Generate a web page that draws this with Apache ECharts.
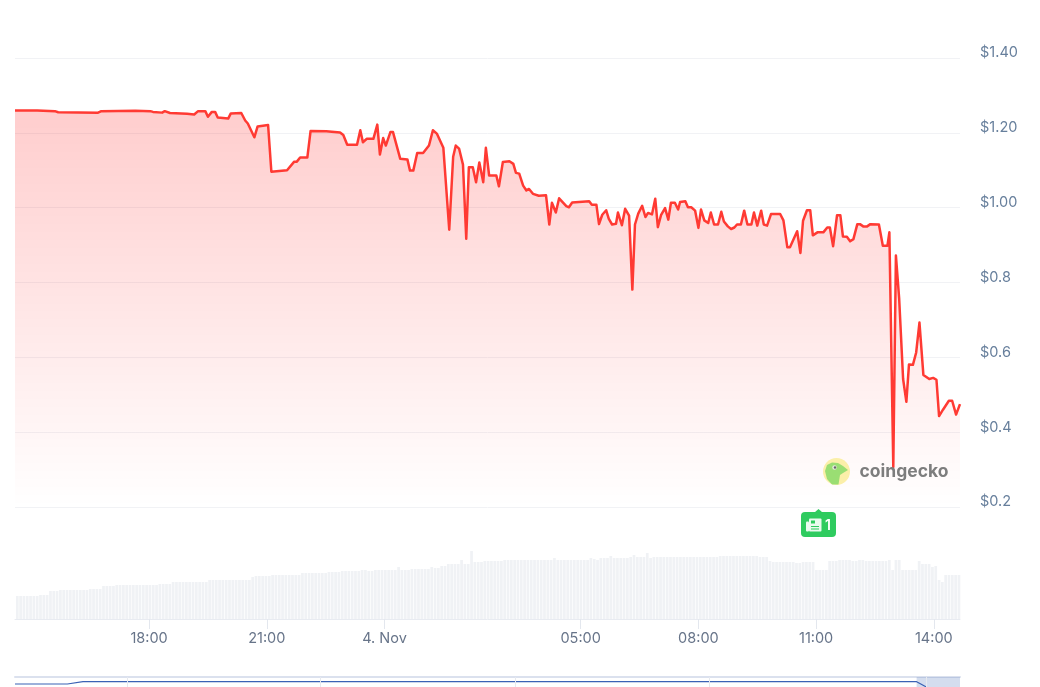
<!DOCTYPE html>
<html>
<head>
<meta charset="utf-8">
<style>html,body{margin:0;padding:0;background:#fff}#c{width:1040px;height:687px}</style>
<script src="https://cdn.jsdelivr.net/npm/echarts@6/dist/echarts.min.js"></script>
</head>
<body>
<div id="c"></div>
<script>
// minutes after 3 Nov 14:35
const priceMinutes = [0,34,35,61,66,69,127,132,135,184,207,211,225,229,237,240,263,274,280,291,295,301,306,310,326,330,346,352,356,366,371,387,392,416,427,431,436,447,452,476,497,502,508,523,528,532,538,548,554,558,563,567,574,578,589,600,604,609,615,624,633,639,645,648,655,664,670,674,679,685,690,694,700,705,710,716,720,725,736,740,746,756,762,766,771,777,782,786,792,801,812,817,821,827,832,843,847,852,878,882,889,893,898,904,908,913,919,922,928,933,939,944,948,953,959,964,968,974,979,983,988,994,999,1003,1009,1014,1017,1025,1029,1034,1040,1045,1049,1054,1060,1064,1069,1075,1080,1084,1090,1095,1100,1104,1110,1115,1120,1126,1130,1135,1141,1145,1150,1156,1170,1175,1181,1185,1196,1201,1205,1211,1216,1220,1227,1236,1242,1246,1251,1257,1262,1266,1272,1277,1282,1288,1292,1297,1303,1308,1321,1327,1334,1337,1343,1347,1352,1358,1363,1367,1373,1378,1383,1389,1393,1398,1404,1409,1413,1419,1428,1433,1439,1445];
const priceValues = [1.26,1.26,1.258,1.258,1.255,1.254,1.254,1.258,1.259,1.259,1.258,1.256,1.254,1.258,1.253,1.251,1.251,1.249,1.258,1.258,1.243,1.256,1.256,1.241,1.238,1.252,1.253,1.233,1.225,1.188,1.217,1.221,1.096,1.1,1.123,1.123,1.134,1.134,1.205,1.204,1.201,1.194,1.168,1.168,1.207,1.175,1.184,1.184,1.222,1.142,1.186,1.166,1.202,1.202,1.131,1.129,1.099,1.099,1.146,1.146,1.166,1.207,1.198,1.198,1.16,0.941,1.136,1.166,1.158,1.115,0.917,1.108,1.108,1.068,1.121,1.068,1.16,1.086,1.086,1.057,1.122,1.124,1.117,1.093,1.091,1.059,1.046,1.05,1.037,1.032,1.033,0.955,1.013,0.987,1.025,1.004,1.001,1.014,1.017,1.008,1.008,0.956,0.981,0.993,0.97,0.955,0.957,0.987,0.953,0.997,0.979,0.781,0.955,0.984,1.005,0.975,0.986,0.982,1.024,0.948,0.981,0.999,0.968,1.013,1.013,0.995,1.015,1.017,1.001,1.001,0.992,0.946,0.995,0.966,0.959,0.987,0.955,0.955,0.989,0.963,0.95,0.943,0.947,0.955,0.955,0.992,0.955,0.955,0.987,0.952,0.992,0.955,0.952,0.983,0.983,0.966,0.894,0.894,0.937,0.879,0.965,0.993,0.993,0.926,0.934,0.934,0.947,0.947,0.897,0.98,0.98,0.923,0.922,0.91,0.916,0.956,0.956,0.95,0.95,0.956,0.955,0.898,0.898,0.934,0.307,0.872,0.756,0.542,0.481,0.581,0.58,0.613,0.693,0.553,0.548,0.542,0.545,0.54,0.443,0.46,0.484,0.484,0.447,0.475];
// relative volume, one bar per sample
const volumeValues = [23,23,23,23,23,23,23,24,24,24,28,28,28,29,29,29,29,29,29,29,29,29,30,30,30,30,33,33,33,33,34,34,34,34,34,34,34,34,34,34,34,34,34,35,35,35,35,37,37,37,37,37,37,37,37,37,37,37,39,39,39,39,39,39,39,39,39,39,39,39,39,42,43,43,43,43,43,44,44,44,44,44,44,44,44,44,46,46,46,46,46,46,46,46,47,47,47,47,48,48,48,48,48,48,49,49,48,48,49,49,49,49,49,49,49,52,49,49,49,50,50,50,50,50,50,52,51,51,53,53,55,55,55,55,59,55,55,68,57,57,57,58,58,58,58,58,58,59,59,59,59,59,59,59,59,59,59,59,59,59,59,59,61,59,59,59,59,59,59,59,59,59,59,61,60,59,61,61,61,63,61,61,61,61,61,62,64,62,62,62,66,61,62,62,62,62,62,62,62,62,62,62,62,62,62,62,62,62,62,62,62,62,63,63,63,63,63,63,63,63,63,63,63,63,62,62,62,58,57,57,57,57,57,57,57,56,56,57,57,57,57,49,49,49,49,58,58,58,59,59,59,59,58,58,59,59,58,58,58,58,58,58,58,59,49,59,59,49,49,49,49,49,58,55,55,55,52,53,39,37,44,44,44,44,44];
const yTickLabels = ['$0.2','$0.4','$0.6','$0.8','$1.00','$1.20','$1.40'];
const xTickMinutes = [205,385,565,865,1045,1225,1405];
const xTickLabels = ['18:00','21:00','4. Nov','05:00','08:00','11:00','14:00'];
// overview strip: days along a longer history
const navDays = [0,8.1,10.5,60,110,139.3,140.8];
const navPrices = [0.85,0.85,1.12,1.13,1.12,1.12,0.5];
const navMonthTicks = [17.3,47.2,77.3,107.3,140.8];

const price = priceMinutes.map((m,i)=>[m, priceValues[i]]);
const vol = volumeValues.map((v,i)=>[3.5+i*5.07, v]);
const nav = navDays.map((d,i)=>[d,navPrices[i]]);

const chart = echarts.init(document.getElementById('c'),null,{renderer:'canvas'});
const FONT = 'Inter, "Liberation Sans", sans-serif';
chart.setOption({
  animation:false,
  grid:[
    {left:15,right:80,top:58,height:449},
    {left:15,right:80,top:540,height:79},
    {left:15,right:80,top:677,height:10}
  ],
  xAxis:[
    {gridIndex:0,type:'value',min:0,max:1445,show:false},
    {gridIndex:1,type:'value',min:0,max:1445,
      axisLine:{show:true,lineStyle:{color:'#e8ebf1',width:1}},
      axisTick:{show:true,length:10,lineStyle:{color:'#e3e7ee'},customValues:xTickMinutes},
      splitLine:{show:false},
      axisLabel:{show:true,customValues:xTickMinutes,margin:12,hideOverlap:false,fontFamily:FONT,fontSize:14.5,color:'#677489',
        formatter:(v)=>xTickLabels[xTickMinutes.indexOf(+v)]||''}},
    {gridIndex:2,type:'value',min:0,max:146,position:'top',
      axisLine:{show:true,onZero:false,lineStyle:{color:'#dbe1ee',width:2}},
      axisTick:{show:false},axisLabel:{show:false},splitLine:{show:false}}
  ],
  yAxis:[
    {gridIndex:0,type:'value',min:0.2,max:1.4,interval:0.2,position:'right',
      axisLine:{show:false},axisTick:{show:false},
      splitLine:{show:true,lineStyle:{color:'#f1f2f5',width:1}},
      axisLabel:{show:true,margin:20,fontFamily:FONT,fontSize:14.5,color:'#677f9c',verticalAlign:'bottom',lineHeight:10,
        formatter:(v,i)=>yTickLabels[i]}},
    {gridIndex:1,type:'value',min:0,max:79,show:false},
    {gridIndex:2,type:'value',min:0.5,max:1.67,show:false}
  ],
  series:[
    {type:'bar',name:'Volume',xAxisIndex:1,yAxisIndex:1,data:vol,barWidth:2.7,itemStyle:{color:'#f0f2f5'},z:1},
    {type:'line',name:'Price',xAxisIndex:0,yAxisIndex:0,data:price,showSymbol:false,smooth:false,
      lineStyle:{color:'#ff3a33',width:2.5,join:'round'},
      areaStyle:{origin:'start',color:new echarts.graphic.LinearGradient(0,0,0,1,[
        {offset:0,color:'rgba(255,0,0,0.28)'},{offset:1,color:'rgba(255,0,0,0)'}])},z:3},
    {type:'line',name:'Overview',xAxisIndex:2,yAxisIndex:2,data:nav,showSymbol:false,
      lineStyle:{color:'#3b62b5',width:1.2},clip:true,
      markLine:{silent:true,symbol:'none',label:{show:false},lineStyle:{color:'#e6e9ef',width:1,type:'solid'},
        data:navMonthTicks.map(d=>({xAxis:d}))},
      markArea:{silent:true,itemStyle:{color:'rgba(102,133,194,0.28)'},data:[[{xAxis:139.3},{xAxis:146}]]}}
  ],
  graphic:[
    {type:'circle',shape:{cx:836.5,cy:471.5,r:13.5},style:{fill:'#fbefa9'},z:10},
    {type:'polygon',shape:{points:[[825,471],[827,465],[832,462.5],[838,463],[843,466],[848,470],[843,473],[840,475],[838.5,484.5],[832,484.5],[827,479]]},style:{fill:'#9ade73'},z:11},
    {type:'circle',shape:{cx:834.5,cy:467.5,r:2.2},style:{fill:'#e8e8e0'},z:12},
    {type:'circle',shape:{cx:835,cy:467.5,r:1.2},style:{fill:'#666'},z:13},
    {type:'text',style:{x:859.5,y:471.5,text:'coingecko',fill:'#7d7d7d',font:'bold 17.5px Inter, sans-serif',textVerticalAlign:'middle'},z:11},
    {type:'rect',shape:{x:801,y:512,width:35,height:25,r:4},style:{fill:'#2fcb5f'},z:10},
    {type:'polygon',shape:{points:[[814.5,512.5],[818.5,509],[822.5,512.5]]},style:{fill:'#2fcb5f'},z:10},
    {type:'rect',shape:{x:809,y:518.5,width:12.5,height:13,r:1},style:{fill:'#eafbef'},z:11},
    {type:'rect',shape:{x:806,y:521.5,width:3,height:10,r:1},style:{fill:'#eafbef'},z:11},
    {type:'rect',shape:{x:811,y:520.5,width:4,height:3},style:{fill:'#2fcb5f'},z:12},
    {type:'rect',shape:{x:811,y:526,width:8,height:1},style:{fill:'#2fcb5f'},z:12},
    {type:'rect',shape:{x:811,y:528.5,width:8,height:1},style:{fill:'#2fcb5f'},z:12},
    {type:'text',style:{x:825,y:525.5,text:'1',fill:'#ffffff',font:'600 14px Inter, sans-serif',textVerticalAlign:'middle'},z:12}
  ]
});
</script>
</body>
</html>
